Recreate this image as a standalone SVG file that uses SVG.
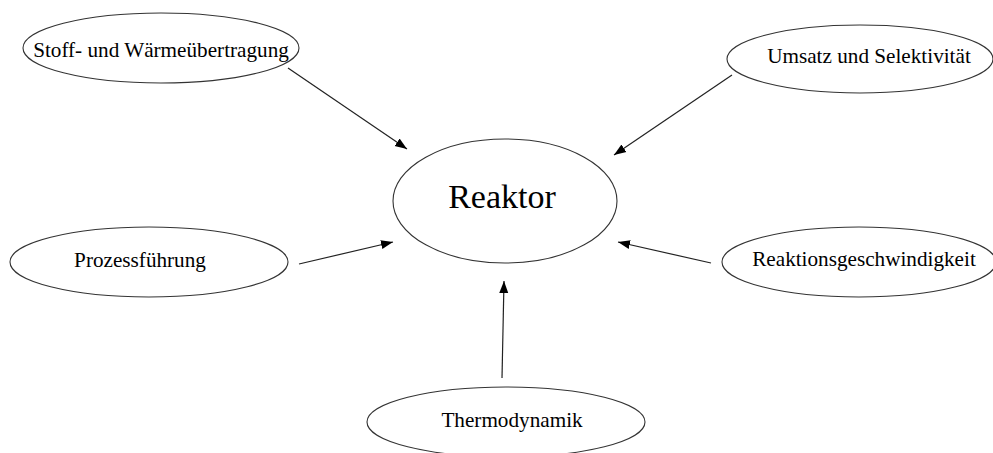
<svg xmlns="http://www.w3.org/2000/svg" width="993" height="453" viewBox="0 0 993 453">
<style>
.n ellipse{fill:#fff;stroke:#333;stroke-width:1.1}
.n text{font-family:"Liberation Serif","Times New Roman",serif;font-size:21.2px;fill:#000;text-anchor:middle}
.c line{stroke:#222;stroke-width:1.2;marker-end:url(#ah)}
</style>
<defs>
<marker id="ah" markerUnits="userSpaceOnUse" markerWidth="13" markerHeight="11" viewBox="0 0 13 11" refX="12" refY="5.5" orient="auto">
<path d="M0,1 L12,5.5 L0,10 Z" fill="#000"/>
</marker>
</defs>
<rect width="993" height="453" fill="#fff"/>
<g class="c" id="connectors">
<line x1="288" y1="68" x2="407" y2="149"/>
<line x1="732" y1="75" x2="614" y2="155"/>
<line x1="299" y1="264" x2="393" y2="242"/>
<line x1="711" y1="263" x2="618" y2="242"/>
<line x1="502" y1="378" x2="504" y2="281"/>
</g>
<g class="n" id="reaktor">
<ellipse cx="505" cy="201" rx="112" ry="62"/>
<text x="502" y="208" style="font-size:34px">Reaktor</text>
</g>
<g class="n" id="stoff">
<ellipse cx="161" cy="48" rx="138" ry="35"/>
<text x="161" y="57">Stoff- und Wärmeübertragung</text>
</g>
<g class="n" id="umsatz">
<ellipse cx="860" cy="59" rx="133" ry="34"/>
<text x="869" y="63">Umsatz und Selektivität</text>
</g>
<g class="n" id="prozess">
<ellipse cx="149" cy="262" rx="139" ry="35"/>
<text x="140" y="267">Prozessführung</text>
</g>
<g class="n" id="reaktion">
<ellipse cx="859" cy="262" rx="137" ry="35"/>
<text x="864" y="266">Reaktionsgeschwindigkeit</text>
</g>
<g class="n" id="thermo">
<ellipse cx="506" cy="422" rx="139" ry="35"/>
<text x="512" y="427">Thermodynamik</text>
</g>
</svg>
